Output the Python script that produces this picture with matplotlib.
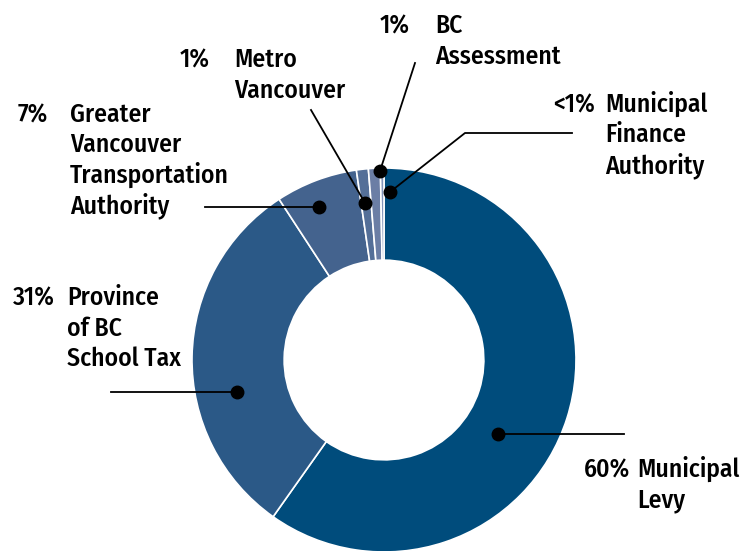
import matplotlib
matplotlib.use("Agg")
import matplotlib.pyplot as plt

# share of the property tax bill, clockwise from 12 o'clock
names = ["Municipal\nLevy", "Province\nof BC\nSchool Tax",
         "Greater\nVancouver\nTransportation\nAuthority",
         "Metro\nVancouver", "BC\nAssessment", "Municipal\nFinance\nAuthority"]
shares = [59.8, 31.0, 6.9, 1.0, 1.0, 0.3]
pct_labels = ["60%", "31%", "7%", "1%", "1%", "<1%"]
colors = ["#004c7c", "#2b5987", "#44638e", "#546f98", "#6b7ea5", "#8494b8"]

plt.rcParams['font.family'] = ['Fira Sans Condensed', 'DejaVu Sans']
FONT = dict(fontsize=18.4, fontweight=500, color='black')

W, H = 745, 551
fig = plt.figure(figsize=(W / 100, H / 100), dpi=100)

# pie centre / radius in pixels
cx, cy, R = 384, 360, 192
ax = fig.add_axes([(cx - R) / W, (H - cy - R) / H, 2 * R / W, 2 * R / H])
ax.pie(shares, colors=colors, startangle=90, counterclock=False,
       wedgeprops=dict(width=0.48, edgecolor='white', linewidth=1.2))
ax.set_xlim(-1, 1)
ax.set_ylim(-1, 1)
ax.set_aspect('equal')
ax.axis('off')


def px(x, y):
    return (x - cx) / R, (cy - y) / R


# label layout in pixels: (pct x, name x, first baseline y), leader path ending at the dot
layout = [
    (584, 637, 477, [(624, 434), (498, 434)]),
    (13, 67, 305, [(111, 392), (237, 392)]),
    (18, 70, 122, [(205, 207), (319, 207)]),
    (180, 234, 67, [(311, 110), (365, 203)]),
    (380, 435, 33, [(415, 63), (380, 171)]),
    (553, 605, 112, [(572, 133), (465, 133), (390, 192)]),
]
LINE = 30.5

for name, pct, (xp, xn, yl, path) in zip(names, pct_labels, layout):
    ax.text(*px(xp, yl), pct, va='baseline', ha='left', clip_on=False, **FONT)
    for i, line in enumerate(name.split("\n")):
        ax.text(*px(xn, yl + i * LINE), line, va='baseline', ha='left',
                clip_on=False, **FONT)
    pts = [px(*p) for p in path]
    ax.plot([p[0] for p in pts], [p[1] for p in pts], color='black',
            lw=1.3, clip_on=False)
    ax.plot(*pts[-1], 'o', color='black', ms=9, clip_on=False)

fig.savefig("out.png", dpi=100)
